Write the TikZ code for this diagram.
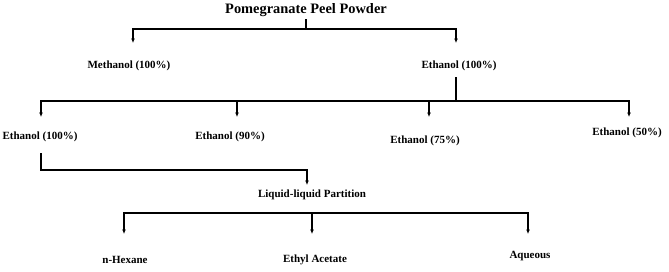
\documentclass[tikz,border=0pt]{standalone}
\usepackage{fontspec}
\setmainfont{Liberation Serif}
\usetikzlibrary{arrows.meta}
\begin{document}
\begin{tikzpicture}[x=1pt,y=-1pt,
  lbl/.style={font=\bfseries\fontsize{11}{13}\selectfont, inner sep=0pt},
  ttl/.style={font=\bfseries\fontsize{14.4}{17}\selectfont, inner sep=0pt},
  con/.style={line width=1.2pt},
  arr/.style={con,-{Latex[length=4.5pt,width=4pt]}}]
\useasboundingbox (0,0) rectangle (669,271);
% nodes
\node[ttl] (ppp) at (306,10) {Pomegranate Peel Powder};
\node[lbl] (meth) at (129,66) {Methanol (100\%)};
\node[lbl] (eth) at (459,66) {Ethanol (100\%)};
\node[lbl] (e100) at (40,137) {Ethanol (100\%)};
\node[lbl] (e90) at (230,137) {Ethanol (90\%)};
\node[lbl] (e75) at (425,141) {Ethanol (75\%)};
\node[lbl] (e50) at (627,133) {Ethanol (50\%)};
\node[lbl] (llp) at (312,195) {Liquid-liquid Partition};
\node[lbl] (hex) at (125,260) {n-Hexane};
\node[lbl] (ea) at (315,260) {Ethyl Acetate};
\node[lbl] (aq) at (530,256) {Aqueous};
% junctions and arrow tips
\coordinate (s1) at (306,19);
\coordinate (j1) at (306,29);
\coordinate (a1) at (133,43);
\coordinate (a2) at (456,43);
\coordinate (s2) at (456,77);
\coordinate (j2) at (456,101);
\coordinate (b1) at (41,117);
\coordinate (b2) at (237,117);
\coordinate (b3) at (429,117);
\coordinate (b4) at (629,117);
\coordinate (s3) at (41,153);
\coordinate (j3) at (41,170);
\coordinate (c1) at (307,185);
\coordinate (j4) at (312,213);
\coordinate (d1) at (124,234);
\coordinate (d2) at (312,234);
\coordinate (d3) at (528,234);
% connectors
\draw[con] (s1) -- (j1);
\draw[arr] (j1) -| (a1);
\draw[arr] (j1) -| (a2);
\draw[con] (s2) -- (j2);
\draw[arr] (j2) -| (b1);
\draw[arr] (j2) -| (b2);
\draw[arr] (j2) -| (b3);
\draw[arr] (j2) -| (b4);
\draw[arr] (s3) -- (j3) -| (c1);
\draw[arr] (j4) -| (d1);
\draw[arr] (j4) -- (d2);
\draw[arr] (j4) -| (d3);
\end{tikzpicture}
\end{document}
